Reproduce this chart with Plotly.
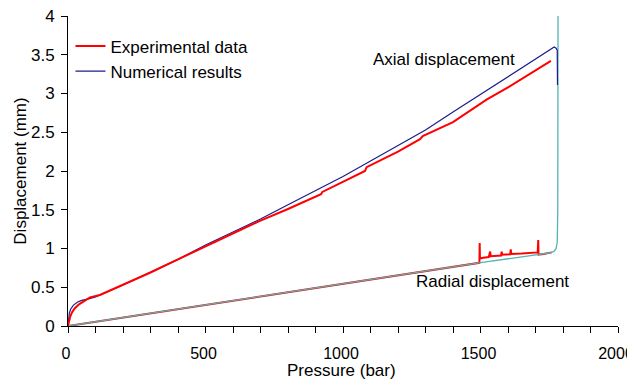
import plotly.graph_objects as go

# ---- data ----
# Axial displacement, numerical results
num_axial_p = [0, 2, 5, 10, 20, 35, 50, 75, 100, 200, 300, 400, 500, 600, 700, 800, 900,
               1000, 1100, 1200, 1300, 1400, 1500, 1600, 1700, 1768, 1775, 1779, 1780]
num_axial_d = [0, 0.10, 0.17, 0.22, 0.27, 0.31, 0.33, 0.35, 0.375, 0.53, 0.69, 0.86, 1.045,
               1.21, 1.38, 1.565, 1.75, 1.93, 2.13, 2.33, 2.53, 2.76, 2.99, 3.22, 3.45,
               3.60, 3.585, 3.56, 3.11]

# Axial displacement, experimental data
exp_axial_p = [0, 3, 8, 15, 25, 40, 60, 80, 116, 200, 300, 400, 500, 600, 700, 800, 900,
               920, 925, 1000, 1080, 1086, 1200, 1280, 1290, 1400, 1522, 1600, 1700, 1756]
exp_axial_d = [0, 0.05, 0.12, 0.18, 0.23, 0.28, 0.33, 0.37, 0.40, 0.53, 0.69, 0.86, 1.03,
               1.19, 1.36, 1.51, 1.67, 1.70, 1.73, 1.86, 2.00, 2.05, 2.25, 2.41, 2.45,
               2.63, 2.92, 3.08, 3.30, 3.42]

# Radial displacement, numerical results
num_radial_p = [0, 500, 1000, 1500, 1755, 1768, 1775, 1779, 1781, 1782]
num_radial_d = [0, 0.272, 0.545, 0.817, 0.945, 0.965, 1.0, 1.08, 1.5, 4.3]

# Radial displacement, experimental data
exp_radial_p = [0, 500, 1000, 1496, 1497, 1498, 1510, 1530, 1535, 1537, 1575, 1577, 1579,
                1608, 1610, 1612, 1650, 1700, 1708, 1710, 1711, 1730, 1759]
exp_radial_d = [0, 0.272, 0.545, 0.815, 1.07, 0.87, 0.88, 0.89, 0.96, 0.90, 0.91, 0.96,
                0.92, 0.925, 0.99, 0.93, 0.935, 0.945, 0.95, 1.11, 0.92, 0.93, 0.95]

x_tick_vals = [0, 500, 1000, 1500, 2000]
x_tick_text = ["0", "500", "1000", "1500", "2000"]
y_tick_vals = [0, 0.5, 1, 1.5, 2, 2.5, 3, 3.5, 4]
y_tick_text = ["0", "0.5", "1", "1.5", "2", "2.5", "3", "3.5", "4"]

RED = "#FF0000"
NAVY = "#1C1C8C"
TEAL = "#55B4B4"
FONT = "Liberation Sans, Arial, sans-serif"

fig = go.Figure()
fig.add_trace(go.Scatter(x=exp_radial_p, y=exp_radial_d, mode="lines",
                         line=dict(color=RED, width=2), showlegend=False))
fig.add_trace(go.Scatter(x=num_radial_p, y=num_radial_d, mode="lines",
                         line=dict(color=TEAL, width=1.3), showlegend=False))
fig.add_trace(go.Scatter(x=num_axial_p, y=num_axial_d, mode="lines",
                         line=dict(color=NAVY, width=1.2), name="Numerical results"))
fig.add_trace(go.Scatter(x=exp_axial_p, y=exp_axial_d, mode="lines",
                         line=dict(color=RED, width=2), name="Experimental data"))

fig.add_annotation(x=1367, y=3.445, xref="x", yref="y", text="Axial displacement",
                   showarrow=False, font=dict(size=17, color="black", family=FONT))
fig.add_annotation(x=1542, y=0.572, xref="x", yref="y", text="Radial displacement",
                   showarrow=False, font=dict(size=17, color="black", family=FONT))
# x-axis title
fig.add_annotation(x=0.4964, y=-0.142, xref="paper", yref="paper", text="Pressure (bar)",
                   showarrow=False, yanchor="middle",
                   font=dict(size=17, color="black", family=FONT))

# page body has an 8px margin: the figure is sized/offset so the plot lands where the reference has it
fig.update_layout(
    width=627, height=377,
    margin=dict(l=60, r=17, t=8, b=59, autoexpand=False),
    paper_bgcolor="white", plot_bgcolor="white",
    font=dict(family=FONT, size=17, color="black"),
    legend=dict(x=0.0045, y=0.96, xanchor="left", yanchor="top",
                bgcolor="rgba(0,0,0,0)", traceorder="reversed",
                font=dict(size=17), tracegroupgap=0),
    xaxis=dict(range=[0, 2000], tickvals=x_tick_vals, ticktext=x_tick_text,
               showgrid=False, zeroline=False, showline=True, linecolor="black",
               linewidth=1, ticks="outside", ticklen=6, tickcolor="black",
               minor=dict(dtick=100, ticks="outside", ticklen=6, tickcolor="black", showgrid=False),
               tickfont=dict(size=16), ticklabelshift=-2,
               ticklabelstandoff=7, automargin=False, ticklabeloverflow="allow"),
    yaxis=dict(range=[0, 4], tickvals=y_tick_vals, ticktext=y_tick_text,
               showgrid=False, zeroline=False, showline=True, linecolor="black",
               linewidth=1, ticks="outside", ticklen=6, tickcolor="black",
               title=dict(text="Displacement (mm)", standoff=0, font=dict(size=17)),
               ticklabelstandoff=3, automargin=False, ticklabeloverflow="allow"),
)

fig.write_html("out.html")
